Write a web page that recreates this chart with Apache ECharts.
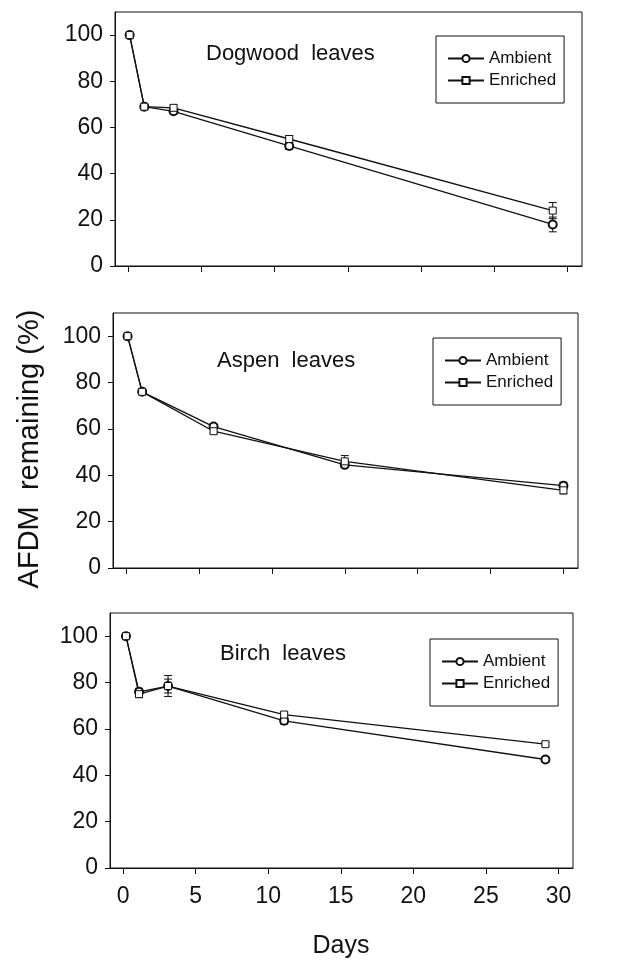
<!DOCTYPE html>
<html style="height: 100%">
<head>
<meta charset="utf-8">
<script src="https://cdn.jsdelivr.net/npm/echarts@6/dist/echarts.min.js"></script>
</head>
<body style="height: 100%; margin: 0; background: #fff">
<div id="container" style="width: 617px; height: 960px"></div>
<script type="text/javascript">
//------ data ------
var panelNames = ["Dogwood  leaves", "Aspen  leaves", "Birch  leaves"];
var seriesNames = ["Ambient", "Enriched"];
var xTicks = [0, 5, 10, 15, 20, 25, 30];

var dogwoodDays = [0.1, 1.1, 3.1, 11, 29];
var dogwoodAmbient = [100, 69, 67, 52, 18];
var dogwoodAmbientErr = [0, 1, 1, 1.5, 3.2];
var dogwoodEnriched = [100, 69, 68.5, 55, 24];
var dogwoodEnrichedErr = [0, 1, 1.2, 1.5, 3.5];

var aspenDays = [0.1, 1.1, 6, 15, 30];
var aspenAmbient = [100, 76, 61, 44.5, 35.5];
var aspenAmbientErr = [0, 0.8, 1, 1, 1.5];
var aspenEnriched = [100, 76, 59, 46, 33.5];
var aspenEnrichedErr = [0, 0.8, 1, 2.5, 1.5];

var birchDays = [0.2, 1.1, 3.1, 11.1, 29.1];
var birchAmbient = [100, 76, 78.5, 63.5, 46.8];
var birchAmbientErr = [0, 1.5, 4.5, 1.5, 1];
var birchEnriched = [100, 75, 78.5, 66.2, 53.4];
var birchEnrichedErr = [0, 1.5, 3, 1, 0.8];
//------ end data ------

var FONT = "Liberation Sans, Arial, sans-serif";
var INK = "#111";

var panels = [
	{days: dogwoodDays, amb: dogwoodAmbient, ambErr: dogwoodAmbientErr, enr: dogwoodEnriched, enrErr: dogwoodEnrichedErr,
	 grid: {left: 115, top: 12, width: 467, height: 254}, title: [206, 55], legend: [436, 36]},
	{days: aspenDays, amb: aspenAmbient, ambErr: aspenAmbientErr, enr: aspenEnriched, enrErr: aspenEnrichedErr,
	 grid: {left: 113, top: 313, width: 465, height: 255}, title: [217, 362], legend: [433, 338]},
	{days: birchDays, amb: birchAmbient, ambErr: birchAmbientErr, enr: birchEnriched, enrErr: birchEnrichedErr,
	 grid: {left: 110, top: 613, width: 463, height: 255}, title: [220, 655], legend: [430, 639]}
];

function pairs(days, vals) {
	var arr = [];
	for (var i = 0; i < days.length; i++) arr.push([days[i], vals[i]]);
	return arr;
}

function errData(days, vals, errs) {
	var arr = [];
	for (var i = 0; i < days.length; i++) {
		if (errs[i] > 0) arr.push([days[i], vals[i] - errs[i], vals[i] + errs[i]]);
	}
	return arr;
}

function renderErr(params, api) {
	var lo = api.coord([api.value(0), api.value(1)]);
	var hi = api.coord([api.value(0), api.value(2)]);
	var w = 4;
	var st = {stroke: INK, lineWidth: 1};
	return {
		type: 'group',
		children: [
			{type: 'line', shape: {x1: lo[0], y1: lo[1], x2: hi[0], y2: hi[1]}, style: st},
			{type: 'line', shape: {x1: lo[0] - w, y1: lo[1], x2: lo[0] + w, y2: lo[1]}, style: st},
			{type: 'line', shape: {x1: hi[0] - w, y1: hi[1], x2: hi[0] + w, y2: hi[1]}, style: st}
		]
	};
}

var grids = [], xAxes = [], yAxes = [], series = [], legends = [], graphics = [];

panels.forEach(function (p, k) {
	grids.push({
		left: p.grid.left, top: p.grid.top, width: p.grid.width, height: p.grid.height,
		show: true, borderColor: INK, borderWidth: 1, backgroundColor: 'transparent'
	});
	xAxes.push({
		type: 'value', gridIndex: k, min: -0.9, max: 31,
		axisLine: {show: true, onZero: false, lineStyle: {color: INK, width: 1}},
		axisTick: {show: true, length: 6, customValues: xTicks, lineStyle: {color: INK}},
		axisLabel: {show: k === 2, customValues: xTicks, color: INK, fontSize: 23, fontFamily: FONT, margin: 17},
		splitLine: {show: false}
	});
	yAxes.push({
		type: 'value', gridIndex: k, min: 0, max: 110, interval: 20,
		axisLine: {show: true, onZero: false, lineStyle: {color: INK, width: 1}},
		axisTick: {show: true, length: 5, lineStyle: {color: INK}},
		axisLabel: {color: INK, fontSize: 23, fontFamily: FONT, margin: 12, showMaxLabel: false},
		splitLine: {show: false}
	});
	series.push({
		type: 'custom', name: 'err-a' + k, xAxisIndex: k, yAxisIndex: k, z: 2,
		renderItem: renderErr, data: errData(p.days, p.amb, p.ambErr)
	});
	series.push({
		type: 'custom', name: 'err-e' + k, xAxisIndex: k, yAxisIndex: k, z: 2,
		renderItem: renderErr, data: errData(p.days, p.enr, p.enrErr)
	});
	series.push({
		type: 'line', name: seriesNames[0], xAxisIndex: k, yAxisIndex: k, z: 3,
		data: pairs(p.days, p.amb), symbol: 'emptyCircle', symbolSize: 8,
		lineStyle: {color: INK, width: 1.3},
		itemStyle: {color: INK, borderColor: INK, borderWidth: 1},
		animation: false
	});
	series.push({
		type: 'line', name: seriesNames[1], xAxisIndex: k, yAxisIndex: k, z: 3,
		data: pairs(p.days, p.enr), symbol: 'rect', symbolSize: 7,
		lineStyle: {color: INK, width: 1.3},
		itemStyle: {color: '#fff', borderColor: INK, borderWidth: 1},
		animation: false
	});
	legends.push({
		data: seriesNames, orient: 'vertical', left: p.legend[0], top: p.legend[1],
		selectedMode: false, borderColor: INK, borderWidth: 1,
		padding: [14, 8, 14, 11], itemWidth: 36, itemHeight: 9, itemGap: 5,
		textStyle: {color: INK, fontSize: 17, fontFamily: FONT, lineHeight: 17}
	});
	graphics.push({
		type: 'text', left: p.title[0], top: p.title[1] - 12,
		style: {text: panelNames[k], fill: INK, font: '22px ' + FONT}
	});
});

graphics.push({
	type: 'text', x: 30, y: 449, rotation: Math.PI / 2,
	style: {text: 'AFDM  remaining (%)', fill: INK, font: '29px ' + FONT, align: 'center', verticalAlign: 'middle'}
});
graphics.push({
	type: 'text', x: 341, y: 946,
	style: {text: 'Days', fill: INK, font: '25px ' + FONT, align: 'center', verticalAlign: 'middle'}
});

var myChart = echarts.init(document.getElementById('container'));
var option = {
	backgroundColor: '#fff',
	animation: false,
	grid: grids,
	xAxis: xAxes,
	yAxis: yAxes,
	legend: legends,
	series: series,
	graphic: graphics
};
myChart.setOption(option);
</script>
</body>
</html>
